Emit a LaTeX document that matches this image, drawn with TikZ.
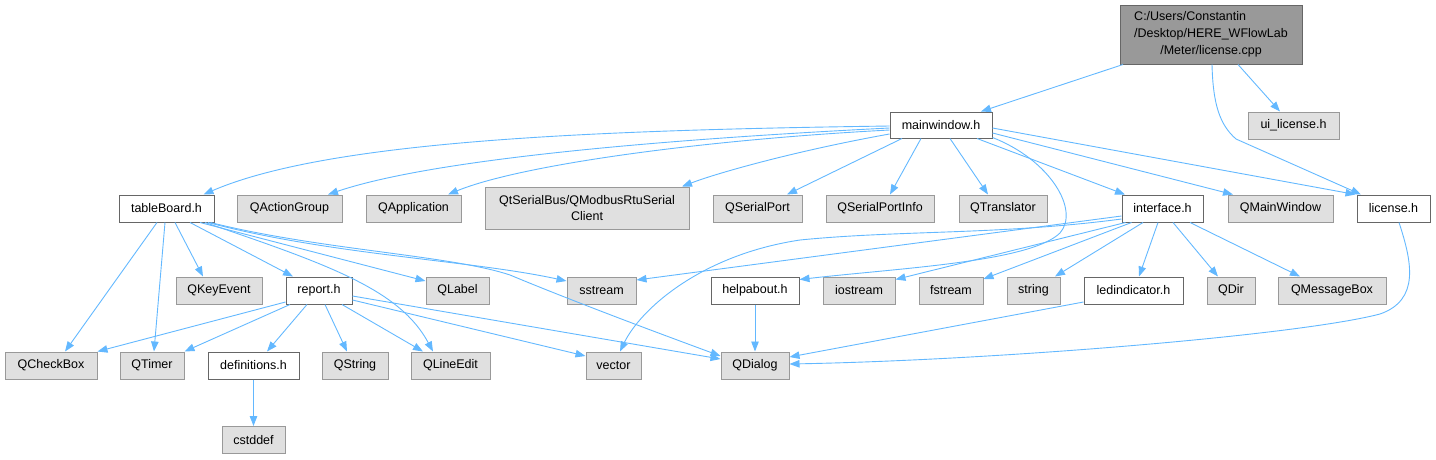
\documentclass[tikz,border=0pt]{standalone}
\usepackage{fontspec}
\setmainfont{Liberation Sans}
\usetikzlibrary{arrows.meta,calc}
\definecolor{eblue}{HTML}{63B8FF}
\definecolor{gfill}{HTML}{E0E0E0}
\definecolor{gline}{HTML}{999999}
\definecolor{wline}{HTML}{666666}
\definecolor{rfill}{HTML}{999999}
\begin{document}
\begin{tikzpicture}[x=1pt,y=-1pt,
  every node/.style={font=\fontsize{12.5}{16}\selectfont, inner sep=0pt, line width=1pt, align=center},
  gbox/.style={rectangle, draw=gline, fill=gfill, minimum height=27pt},
  wbox/.style={rectangle, draw=wline, fill=white, minimum height=27pt},
  rbox/.style={rectangle, draw=wline, fill=rfill, minimum height=59pt, minimum width=182pt, font=\fontsize{12.5}{17}\selectfont},
  dep/.style={draw=eblue, line width=0.9pt, -{Triangle[length=10pt,width=7.5pt,fill=eblue]}}
]
\useasboundingbox (0,0) rectangle (1436,459);

% row 0/1
\node[rbox] (root) at (1211,34.5) {\rlap{C:/Users/Constantin}\phantom{/Desktop/HERE\_WFlowLab}\\/Desktop/HERE\_WFlowLab\\/Meter/license.cpp};
\node[wbox, minimum width=102pt, minimum height=26pt] (mw) at (941,125) {mainwindow.h};
\node[gbox, minimum width=91pt] (uil) at (1293.5,125.5) {ui\_license.h};

% row 2
\node[wbox, minimum width=95pt] (tb) at (166.5,208.5) {tableBoard.h};
\node[gbox, minimum width=105pt] (qag) at (289.5,208.5) {QActionGroup};
\node[gbox, minimum width=95pt] (qapp) at (413.5,208.5) {QApplication};
\node[gbox, minimum width=204pt, minimum height=42pt] (qsb) at (587,208) {QtSerialBus/QModbusRtuSerial\\Client};
\node[gbox, minimum width=89pt] (qsp) at (757.5,208.5) {QSerialPort};
\node[gbox, minimum width=108pt] (qspi) at (880,208.5) {QSerialPortInfo};
\node[gbox, minimum width=88pt] (qtr) at (1003,208.5) {QTranslator};
\node[wbox, minimum width=81pt] (intf) at (1162.5,208.5) {interface.h};
\node[gbox, minimum width=105pt] (qmw) at (1280.5,208.5) {QMainWindow};
\node[wbox, minimum width=73pt] (lic) at (1393.5,208.5) {license.h};

% row 3
\node[gbox, minimum width=86pt] (qke) at (219,290.5) {QKeyEvent};
\node[wbox, minimum width=66pt] (rep) at (319,290.5) {report.h};
\node[gbox, minimum width=63pt] (qlab) at (457.5,290.5) {QLabel};
\node[gbox, minimum width=69pt] (sst) at (601.5,290.5) {sstream};
\node[wbox, minimum width=88pt] (help) at (755,290.5) {helpabout.h};
\node[gbox, minimum width=72pt] (ios) at (859,290.5) {iostream};
\node[gbox, minimum width=64pt] (fst) at (951,290.5) {fstream};
\node[gbox, minimum width=53pt] (str) at (1033.5,290.5) {string};
\node[wbox, minimum width=99pt] (led) at (1133.5,290.5) {ledindicator.h};
\node[gbox, minimum width=48pt] (qdir) at (1231,290.5) {QDir};
\node[gbox, minimum width=108pt] (qmb) at (1332,290.5) {QMessageBox};

% row 4
\node[gbox, minimum width=92pt] (qcb) at (51,365.5) {QCheckBox};
\node[gbox, minimum width=64pt] (qtim) at (152,365.5) {QTimer};
\node[wbox, minimum width=91pt] (defs) at (253.5,365.5) {definitions.h};
\node[gbox, minimum width=66pt] (qstr) at (355,365.5) {QString};
\node[gbox, minimum width=79pt] (qle) at (450.5,365.5) {QLineEdit};
\node[gbox, minimum width=55pt] (vec) at (613.5,365.5) {vector};
\node[gbox, minimum width=68pt] (qdlg) at (755,365.5) {QDialog};

% row 5
\node[gbox, minimum width=63pt] (cstd) at (253.5,440) {cstddef};

% root edges
\draw[dep] ($(root.south)+(-88,0)$) -- ($(mw.north)+(40,0)$);
\draw[dep] ($(root.south)+(27,0)$) -- ($(uil.north)+(-13.5,0)$);
\draw[dep] ($(root.south)+(1,0)$) .. controls (1213,105) and (1220,125) .. (1236,139) -- ($(lic.north)+(-32.5,0)$);

% mainwindow edges
\draw[dep] ($(mw.west)+(0,1)$) .. controls (600,130) and (330,140) .. ($(tb.north)+(37,0)$);
\draw[dep] ($(mw.west)+(0,3)$) .. controls (650,140) and (430,160) .. ($(qag.north)+(38.5,0)$);
\draw[dep] ($(mw.west)+(0,5)$) .. controls (700,140) and (520,165) .. ($(qapp.north)+(34.5,0)$);
\draw[dep] ($(mw.west)+(0,9)$) .. controls (800,150) and (720,172) .. ($(qsb.north)+(95,0)$);
\draw[dep] ($(mw.south)+(-39,0)$) -- ($(qsp.north)+(29.5,0)$);
\draw[dep] ($(mw.south)+(-20,0)$) -- ($(qspi.north)+(10,0)$);
\draw[dep] ($(mw.south)+(9,0)$) -- ($(qtr.north)+(-15,0)$);
\draw[dep] ($(mw.south)+(36,0)$) -- ($(intf.north)+(-37.5,0)$);
\draw[dep] ($(mw.east)+(0,8)$) -- ($(qmw.north)+(-47.5,0)$);
\draw[dep] ($(mw.east)+(0,3)$) -- ($(lic.north)+(-38,0)$);
\draw[dep] ($(mw.south east)+(0,-1)$) .. controls (1050,160) and (1080,210) .. (1060,233) .. controls (1030,262) and (900,268) .. ($(help.east)+(0,-11)$);

% tableBoard edges
\draw[dep] ($(tb.south)+(-9.5,0)$) -- ($(qcb.north)+(14,0)$);
\draw[dep] ($(tb.south)+(-1.5,0)$) -- ($(qtim.north)+(2,0)$);
\draw[dep] ($(tb.south)+(8.5,0)$) -- ($(qke.north)+(-16,0)$);
\draw[dep] ($(tb.south)+(23.5,0)$) -- ($(rep.north)+(-26,0)$);
\draw[dep] ($(tb.south)+(33.5,0)$) -- ($(qlab.west)+(0,-9.5)$);
\draw[dep] ($(tb.south)+(38.5,0)$) .. controls (330,265) and (400,290) .. ($(qle.north)+(-17.5,0)$);
\draw[dep] ($(tb.south)+(41.5,0)$) .. controls (330,255) and (470,260) .. ($(sst.west)+(0,-9.5)$);
\draw[dep] ($(tb.south east)+(-4,0)$) .. controls (320,250) and (450,255) .. (510,275) .. controls (570,300) and (650,330) .. ($(qdlg.west)+(0,-9.5)$);

% report edges
\draw[dep] ($(rep.west)+(0,11.5)$) -- (qcb.north east);
\draw[dep] ($(rep.south)+(-29,0)$) -- (qtim.north east);
\draw[dep] ($(rep.south)+(-12,0)$) -- ($(defs.north)+(13.5,0)$);
\draw[dep] ($(rep.south)+(6,0)$) -- ($(qstr.north)+(-8,0)$);
\draw[dep] ($(rep.south)+(23,0)$) -- ($(qle.north)+(-27.5,0)$);
\draw[dep] ($(rep.east)+(0,9.5)$) -- ($(vec.west)+(0,-9.5)$);
\draw[dep] ($(rep.east)+(0,5.5)$) -- ($(qdlg.west)+(0,-6.5)$);
\draw[dep] (defs) -- (cstd);

% interface edges
\draw[dep] ($(intf.west)+(0,7.5)$) -- ($(sst.east)+(0,-10.5)$);
\draw[dep] ($(intf.west)+(0,10.5)$) .. controls (1000,235) and (900,230) .. (800,240) .. controls (700,255) and (640,310) .. ($(vec.north)+(6.5,0)$);
\draw[dep] ($(intf.south west)+(4,0)$) -- ($(ios.east)+(0,-11)$);
\draw[dep] ($(intf.south west)+(10,0)$) -- ($(fst.east)+(0,-11.5)$);
\draw[dep] ($(intf.south)+(-19.5,0)$) -- ($(str.north)+(21.5,0)$);
\draw[dep] ($(intf.south)+(-4.5,0)$) -- ($(led.north)+(5.5,0)$);
\draw[dep] ($(intf.south)+(10.5,0)$) -- ($(qdir.north)+(-13,0)$);
\draw[dep] ($(intf.south)+(27.5,0)$) -- ($(qmb.north)+(-32,0)$);

% to QDialog
\draw[dep] (help) -- (qdlg);
\draw[dep] ($(led.west)+(0,11.5)$) -- ($(qdlg.east)+(0,-8.5)$);
\draw[dep] ($(lic.south)+(5.5,0)$) .. controls (1412,262) and (1420,300) .. (1380,314) .. controls (1300,335) and (1000,360) .. ($(qdlg.east)+(0,-1.5)$);
\end{tikzpicture}
\end{document}
